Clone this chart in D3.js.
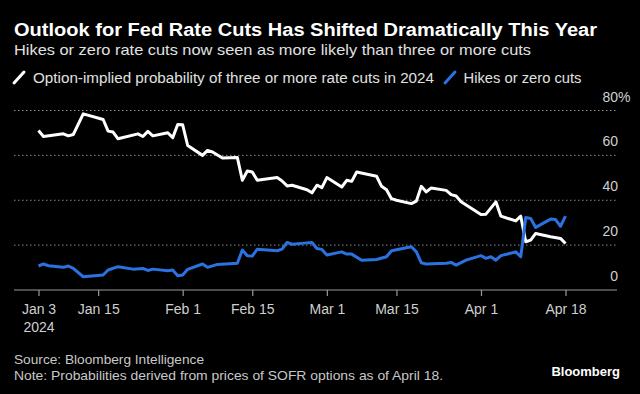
<!DOCTYPE html>
<html>
<head>
<meta charset="utf-8">
<script src="https://cdn.jsdelivr.net/npm/d3@7"></script>
<style>
  html, body { margin: 0; padding: 0; background: #000; }
  svg { display: block; }
  text { font-family: "Liberation Sans", Arial, sans-serif; }
</style>
</head>
<body>
<svg id="chart"></svg>
<script>
// option-implied probability of 3+ cuts (white line)
const whiteDates = ['2024-01-03','2024-01-04','2024-01-08','2024-01-09','2024-01-10','2024-01-12','2024-01-16','2024-01-17','2024-01-18','2024-01-19',
  '2024-01-23','2024-01-24','2024-01-25','2024-01-26','2024-01-29','2024-01-30','2024-01-31','2024-02-01','2024-02-02','2024-02-05',
  '2024-02-06','2024-02-07','2024-02-09','2024-02-12','2024-02-13','2024-02-14','2024-02-15','2024-02-16','2024-02-20','2024-02-21',
  '2024-02-22','2024-02-23','2024-02-26','2024-02-27','2024-02-28','2024-02-29','2024-03-01','2024-03-04','2024-03-05','2024-03-06',
  '2024-03-07','2024-03-11','2024-03-12','2024-03-13','2024-03-14','2024-03-15','2024-03-18','2024-03-19','2024-03-20','2024-03-21',
  '2024-03-22','2024-03-25','2024-03-26','2024-03-27','2024-03-28','2024-04-01','2024-04-02','2024-04-04','2024-04-05','2024-04-08',
  '2024-04-09','2024-04-10','2024-04-11','2024-04-12','2024-04-15','2024-04-17','2024-04-18']
const whiteValues = [71.1,68.4,69.6,68.7,69.3,78.5,76,70.8,70.4,67.4,
  69.6,68.4,70.7,68.7,70.1,67.9,73.8,73.6,64.4,60,
  62.2,61.5,58.8,59,48.9,53,52.6,48.9,50.1,48.6,
  46.4,46.7,44.7,43.3,46.7,45.6,50.1,45.9,48.9,48.4,
  52.6,50.7,46.2,44.7,40.7,40,38.5,39.6,46.2,43.7,
  45.5,44.4,42.5,41.9,39.3,33.6,33.8,39.3,32.9,30.8,
  32.9,21.5,22.2,25.2,23.7,23,20.7]

// hikes or zero cuts (blue line)
const blueDates = ['2024-01-03','2024-01-04','2024-01-05','2024-01-08','2024-01-09','2024-01-10','2024-01-12','2024-01-16','2024-01-17','2024-01-19',
  '2024-01-22','2024-01-24','2024-01-25','2024-01-26','2024-01-29','2024-01-30','2024-01-31','2024-02-01','2024-02-02','2024-02-05',
  '2024-02-06','2024-02-08','2024-02-12','2024-02-13','2024-02-14','2024-02-15','2024-02-16','2024-02-20','2024-02-21','2024-02-22',
  '2024-02-23','2024-02-26','2024-02-27','2024-02-28','2024-02-29','2024-03-01','2024-03-04','2024-03-05','2024-03-06','2024-03-08',
  '2024-03-11','2024-03-13','2024-03-14','2024-03-18','2024-03-19','2024-03-20','2024-03-21','2024-03-25','2024-03-26','2024-03-27',
  '2024-03-29','2024-04-01','2024-04-02','2024-04-03','2024-04-04','2024-04-05','2024-04-08','2024-04-09','2024-04-10','2024-04-11',
  '2024-04-12','2024-04-15','2024-04-16','2024-04-17','2024-04-18']
const blueValues = [10.7,11.6,10.8,10.1,10.7,9.6,5.9,6.7,8.9,10.4,
  9.3,9.6,8.7,9.3,8.6,8.9,6.4,6.7,9.2,11.6,
  10.1,11.4,11.9,17.8,15.3,15.1,18.2,17.5,18.2,21.2,
  20.4,21,21.2,18.5,18.1,15.6,17,16,16,13.3,
  13.6,14.8,17.5,19.3,17,12.1,11.6,11.9,12.3,11.1,
  13.3,15.3,14.1,14.8,13.3,15.3,17,14.8,32.3,31.9,
  27.9,31.6,31.4,28.4,32.9]

const yTicks = [0, 20, 40, 60, 80]
const xTicks = ['2024-01-03','2024-01-15','2024-02-01','2024-02-15','2024-03-01','2024-03-15','2024-04-01','2024-04-18']

const title = 'Outlook for Fed Rate Cuts Has Shifted Dramatically This Year'
const subtitle = 'Hikes or zero rate cuts now seen as more likely than three or more cuts'
const legendNames = ['Option-implied probability of three or more rate cuts in 2024', 'Hikes or zero cuts']
const source = 'Source: Bloomberg Intelligence'
const note = 'Note: Probabilities derived from prices of SOFR options as of April 18.'

const W = 640, H = 394
const WHITE = '#ffffff', BLUE = '#2a72e0'
const parse = d3.timeParse('%Y-%m-%d')

const svg = d3.select('#chart').attr('width', W).attr('height', H)
svg.append('rect').attr('width', W).attr('height', H).attr('fill', '#000')

const x = d3.scaleTime()
  .domain([parse('2024-01-03'), parse('2024-04-18')])
  .range([38.5, 565.5])
const y = d3.scaleLinear().domain([0, 80]).range([290, 110.5])

const left = 14, right = 617

// header
svg.append('text').attr('x', left).attr('y', 36)
  .attr('fill', '#fff').attr('font-size', 18).attr('font-weight', 'bold')
  .attr('textLength', 583).attr('lengthAdjust', 'spacingAndGlyphs')
  .text(title)
svg.append('text').attr('x', left).attr('y', 55)
  .attr('fill', '#e0e0e0').attr('font-size', 15)
  .attr('textLength', 517).attr('lengthAdjust', 'spacingAndGlyphs')
  .text(subtitle)

// legend
const legend = [
  {name: legendNames[0], color: WHITE, x: 14, tx: 33, w: 401},
  {name: legendNames[1], color: BLUE, x: 445, tx: 463.5, w: 118}
]
const lg = svg.selectAll('.legend').data(legend).enter().append('g').attr('class', 'legend')
lg.append('line')
  .attr('x1', d => d.x).attr('y1', 83).attr('x2', d => d.x + 10).attr('y2', 72)
  .attr('stroke', d => d.color).attr('stroke-width', 3).attr('stroke-linecap', 'round')
lg.append('text').attr('x', d => d.tx).attr('y', 83)
  .attr('fill', '#e0e0e0').attr('font-size', 14)
  .attr('textLength', d => d.w).attr('lengthAdjust', 'spacingAndGlyphs')
  .text(d => d.name)

// gridlines + y labels
svg.append('g').selectAll('line').data(yTicks.filter(d => d > 0)).enter().append('line')
  .attr('x1', left).attr('x2', right)
  .attr('y1', d => y(d)).attr('y2', d => y(d))
  .attr('stroke', '#8a8a8a').attr('stroke-width', 1).attr('stroke-dasharray', '1.5,2.5')

const yl = svg.append('g').selectAll('text').data(yTicks).enter().append('text')
  .attr('x', 618).attr('y', d => y(d) - 9)
  .attr('fill', '#cfcfcf').attr('font-size', 14).attr('text-anchor', 'end')
  .text(d => d)
svg.append('text').attr('x', 618).attr('y', y(80) - 9)
  .attr('fill', '#cfcfcf').attr('font-size', 14).text('%')

// x axis
const xAxis = d3.axisBottom(x)
  .tickValues(xTicks.map(parse))
  .tickSize(6)
  .tickFormat(d3.timeFormat('%b %-d'))
const ax = svg.append('g').attr('transform', 'translate(0,290)').call(xAxis)
ax.select('.domain').remove()
ax.insert('line', ':first-child').attr('x1', left).attr('x2', right).attr('stroke', '#9a9a9a').attr('stroke-width', 1.2)
ax.selectAll('.tick line').attr('stroke', '#9a9a9a').attr('stroke-width', 1.2)
ax.selectAll('.tick text')
  .attr('fill', '#cfcfcf').attr('font-size', 14).attr('font-family', '"Liberation Sans", Arial, sans-serif')
  .attr('dy', null).attr('y', 24)
ax.select('.tick text').append('tspan').attr('x', 0).attr('dy', 18).text('2024')

// lines
const line = d3.line().x(d => x(d[0])).y(d => y(d[1]))
const whiteSeries = whiteDates.map((d, i) => [parse(d), whiteValues[i]])
const blueSeries = blueDates.map((d, i) => [parse(d), blueValues[i]])

svg.append('path').datum(whiteSeries).attr('d', line)
  .attr('fill', 'none').attr('stroke', WHITE).attr('stroke-width', 3)
  .attr('stroke-linejoin', 'round')
svg.append('path').datum(blueSeries).attr('d', line)
  .attr('fill', 'none').attr('stroke', BLUE).attr('stroke-width', 3)
  .attr('stroke-linejoin', 'round')

// footer
svg.append('text').attr('x', left).attr('y', 364)
  .attr('fill', '#c8c8c8').attr('font-size', 13)
  .attr('textLength', 190).attr('lengthAdjust', 'spacingAndGlyphs')
  .text(source)
svg.append('text').attr('x', left).attr('y', 380)
  .attr('fill', '#c8c8c8').attr('font-size', 13)
  .attr('textLength', 429).attr('lengthAdjust', 'spacingAndGlyphs')
  .text(note)
svg.append('text').attr('x', 620).attr('y', 376)
  .attr('fill', '#fff').attr('font-size', 13).attr('font-weight', 'bold')
  .attr('text-anchor', 'end').attr('font-family', 'Lato, "Liberation Sans", sans-serif')
  .text('Bloomberg')
</script>
</body>
</html>
